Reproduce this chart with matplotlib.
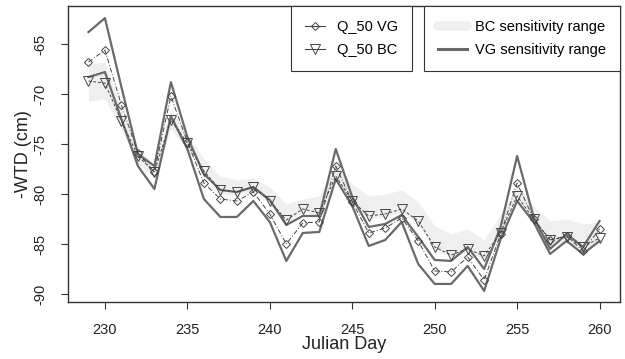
import numpy as np
import matplotlib
matplotlib.use("Agg")
import matplotlib.pyplot as plt
from matplotlib.lines import Line2D

plt.rcParams['font.family'] = ['Liberation Sans', 'DejaVu Sans']
plt.rcParams['axes.unicode_minus'] = False

days = np.arange(229, 261)

# median water table depth, van Genuchten and Brooks-Corey runs
q50_vg = [-66.8, -65.6, -71.1, -75.9, -77.8, -70.2, -74.8, -78.9, -80.5, -80.7,
          -79.8, -82.0, -85.0, -82.9, -82.8, -77.2, -80.8, -83.9, -83.4, -82.4,
          -84.7, -87.7, -87.8, -86.3, -88.6, -84.0, -78.9, -82.5, -84.6, -84.2,
          -85.7, -83.5]
q50_bc = [-68.7, -68.9, -72.7, -76.2, -77.8, -72.6, -74.9, -77.7, -79.6, -79.8,
          -79.3, -80.7, -82.6, -81.5, -81.9, -78.2, -80.7, -82.2, -82.0, -81.5,
          -82.7, -85.3, -86.1, -85.5, -86.2, -83.9, -80.2, -82.5, -84.6, -84.3,
          -85.3, -84.4]

# sensitivity envelopes
vg_upper = [-63.8, -62.4, -69.3, -76.0, -77.2, -68.8, -74.3, -78.0, -79.6, -79.8,
            -79.3, -80.6, -83.1, -82.2, -82.2, -75.5, -80.3, -83.3, -83.0, -82.1,
            -84.3, -86.6, -86.7, -85.3, -87.5, -83.3, -76.2, -82.3, -85.5, -84.0,
            -85.3, -82.7]
vg_lower = [-68.3, -67.8, -72.5, -77.2, -79.5, -72.2, -75.5, -80.5, -82.3, -82.3,
            -80.7, -82.8, -86.7, -83.9, -83.8, -78.5, -81.2, -85.2, -84.6, -82.8,
            -87.0, -89.0, -89.0, -87.2, -89.7, -84.5, -80.7, -82.8, -86.0, -84.7,
            -86.0, -84.7]
bc_upper = [-67.0, -66.8, -71.5, -75.5, -77.0, -71.5, -74.0, -76.5, -78.2, -78.6,
            -78.4, -79.3, -81.0, -80.5, -80.2, -77.0, -79.0, -80.2, -80.0, -79.6,
            -80.8, -83.2, -84.0, -83.5, -84.6, -82.0, -79.2, -81.2, -82.7, -82.5,
            -83.0, -82.8]
bc_lower = [-70.7, -70.5, -73.5, -77.0, -78.3, -73.5, -75.5, -78.0, -80.0, -80.2,
            -79.6, -81.0, -82.9, -81.8, -82.1, -78.6, -81.0, -82.5, -82.3, -81.8,
            -83.0, -85.6, -86.3, -85.8, -86.5, -84.2, -80.7, -83.0, -85.2, -84.8,
            -85.6, -85.0]

band_col = '#efefef'
env_col = '#6a6a6a'
q_col = '#444444'

fig = plt.figure(figsize=(6.25, 3.59), dpi=100)
ax = fig.add_axes([0.1088, 0.159, 0.8832, 0.824])

ax.fill_between(days, bc_lower, bc_upper, color=band_col, lw=0)
ax.plot(days, vg_upper, color=env_col, lw=1.6)
ax.plot(days, vg_lower, color=env_col, lw=1.6)
ax.plot(days, q50_vg, color=q_col, lw=0.7, ls=(0, (5, 2, 1, 2)),
        marker='D', ms=4.2, mfc='none', mec=q_col, mew=0.7)
ax.plot(days, q50_bc, color=q_col, lw=0.7, ls=(0, (3, 2)),
        marker='v', ms=6.5, mfc='none', mec=q_col, mew=0.7)

ax.set_xlim(227.76, 261.24)
ax.set_ylim(-90.8, -61.2)
ax.set_xticks([230, 235, 240, 245, 250, 255, 260])
ax.set_yticks([-90, -85, -80, -75, -70, -65])
ax.tick_params(axis='both', length=5, width=0.8, color='#333333',
               labelsize=10.5, labelcolor='#222222', pad=10)
for lab in ax.get_yticklabels():
    lab.set_rotation(90)
    lab.set_va('center')
for sp in ax.spines.values():
    sp.set_color('#333333')
    sp.set_linewidth(1.0)

ax.set_xlabel('Julian Day', fontsize=13, color='#222222')
ax.set_ylabel('-WTD (cm)', fontsize=13, color='#222222')
ax.xaxis.set_label_coords(0.5, -0.115)
ax.yaxis.set_label_coords(-0.066, 0.5)

# two boxed legends along the top edge
h_q = [Line2D([], [], color=q_col, lw=0.8, marker='D', ms=4.2, mfc='none', mew=0.7),
       Line2D([], [], color=q_col, lw=0.8, marker='v', ms=6.5, mfc='none', mew=0.7)]
leg1 = ax.legend(h_q, ['Q_50 VG', 'Q_50 BC'], loc='upper left',
                 bbox_to_anchor=(0.404, 1.0), borderaxespad=0, fancybox=False,
                 edgecolor='#333333', framealpha=1, fontsize=10.5,
                 handlelength=1.4, handletextpad=0.8, labelspacing=0.65,
                 borderpad=0.95)
leg1.get_frame().set_linewidth(0.8)
ax.add_artist(leg1)

h_r = [Line2D([], [], color=band_col, lw=7, solid_capstyle='round'),
       Line2D([], [], color=env_col, lw=2.2)]
leg2 = ax.legend(h_r, ['BC sensitivity range', 'VG sensitivity range'],
                 loc='upper right', bbox_to_anchor=(1.0, 1.0), borderaxespad=0,
                 fancybox=False, edgecolor='#333333', framealpha=1, fontsize=10.5,
                 handlelength=2.0, handletextpad=0.55, labelspacing=0.65,
                 borderpad=0.95)
leg2.get_frame().set_linewidth(0.8)

fig.savefig('out.png', dpi=100)
